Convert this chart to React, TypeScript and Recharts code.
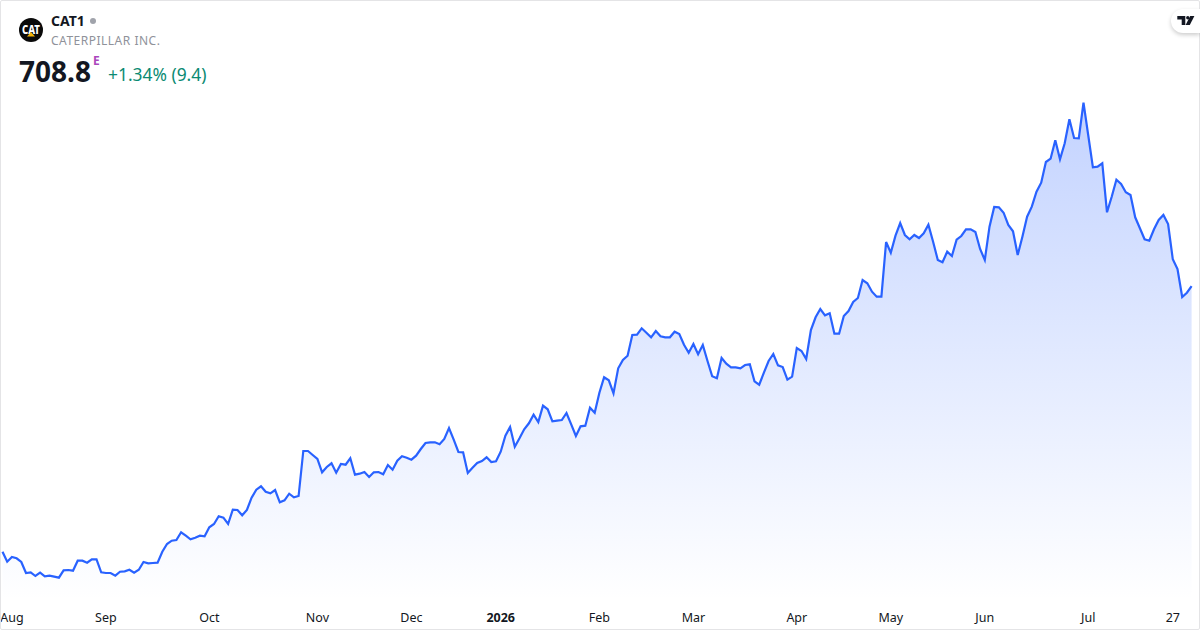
import React from "react";
import { AreaChart, Area, XAxis, YAxis } from "recharts";

const prices: number[] = [
  443.3, 433.3, 438, 436.7, 433, 422, 422.7, 419, 422.3, 418.7,
  419.3, 418.3, 417.3, 424.7, 425, 424.3, 434.3, 434.3, 432.3, 435.7,
  435.7, 422.7, 422, 422, 419.3, 423.3, 423.7, 425.3, 422.3, 425.3,
  433, 431.7, 432, 432.3, 443.3, 451, 454.3, 455, 462.7, 459.3,
  455.7, 457.3, 459.3, 458.7, 467.7, 471, 478.7, 477.3, 471, 485.3,
  485, 479.7, 485, 497.3, 505.3, 508.7, 503.3, 501.7, 505, 492.7,
  494.7, 501.3, 497.7, 499, 544, 544, 540, 536, 522.7, 528,
  531.7, 522.3, 531, 530.3, 536.7, 520.3, 521.3, 523, 518, 522.7,
  523, 520.7, 530, 525.3, 534.3, 538.7, 537.3, 535.3, 539.3, 546,
  552, 552.7, 552.7, 550.7, 556, 567, 555.3, 543, 542.7, 522,
  527.3, 532, 534, 537.7, 533, 533.7, 543.3, 559.3, 568, 548.3,
  556.7, 565.7, 571.7, 580.3, 573, 589.3, 585.7, 573.7, 574.3, 575,
  582, 570.7, 559, 568.7, 569.3, 587.3, 582.3, 602.3, 617.7, 614.7,
  601.7, 626.7, 635, 639.3, 660, 660.3, 666.7, 662.3, 657.7, 664,
  658.7, 657.7, 657.7, 663.3, 661, 650.3, 642.3, 651, 640.7, 650,
  634, 618.7, 616.7, 637, 631.3, 627.7, 627.7, 626.7, 630, 630.7,
  613.7, 610.3, 622.3, 634, 641, 629.7, 628, 615.3, 618.3, 647,
  644, 636, 665, 677.7, 686, 679.7, 681.7, 661.3, 661.3, 679,
  684, 693, 697, 715, 711.7, 703.3, 698.3, 698.3, 753, 742.3,
  759.3, 772, 760, 755.7, 760, 757, 761.7, 770.3, 753.3, 735,
  732.7, 743.3, 739, 755.3, 759, 765.7, 765.7, 763, 746, 735,
  768.3, 788, 787.7, 782.3, 770, 763.7, 740, 758.3, 778.3, 788.3,
  803.3, 812.3, 833, 836.3, 854.7, 835.7, 851.7, 875.7, 857, 856.7,
  892.3, 860, 827.7, 828.3, 831.7, 782.7, 798.3, 815.3, 811, 802.7,
  800, 777.7, 766.7, 755.7, 754.3, 765.7, 775, 780, 771, 735.7,
  726, 698, 702.3, 708.8,
];
const tickIndexes: number[] = [2, 22, 44, 67, 87, 106, 127, 147, 169, 189, 209, 231, 249];
const tickLabels: string[] = ["Aug", "Sep", "Oct", "Nov", "Dec", "2026", "Feb", "Mar", "Apr", "May", "Jun", "Jul", "27"];

const rows = prices.map((price, day) => ({ day, price }));
const FONT = '"Noto Sans", sans-serif';

function MonthTick(props: any) {
  const { x, payload } = props;
  const label = tickLabels[tickIndexes.indexOf(payload.value)];
  return (
    <text
      x={x}
      y={622}
      textAnchor="middle"
      fontFamily={FONT}
      fontSize={12.5}
      fontWeight={label === "2026" ? 700 : 400}
      fill="#131722"
    >
      {label}
    </text>
  );
}

export default function App() {
  return (
    <div
      style={{
        position: "absolute",
        left: 0,
        top: 0,
        width: 1200,
        height: 630,
        background: "#fff",
        overflow: "hidden",
        fontFamily: FONT,
      }}
    >
      <AreaChart width={1200} height={630} data={rows} margin={{ top: 0, right: 8.4, bottom: 0, left: 2.5 }}>
        <defs>
          <linearGradient id="fade" x1="0" y1="0" x2="0" y2="1">
            <stop offset="0%" stopColor="#2962FF" stopOpacity={0.28} />
            <stop offset="100%" stopColor="#2962FF" stopOpacity={0} />
          </linearGradient>
        </defs>
        <XAxis
          dataKey="day"
          type="number"
          domain={[0, prices.length - 1]}
          ticks={tickIndexes}
          interval={0}
          height={30}
          axisLine={false}
          tickLine={false}
          tick={<MonthTick />}
        />
        <YAxis hide domain={[395, 995]} />
        <Area
          type="linear"
          dataKey="price"
          baseValue={395}
          stroke="#2962FF"
          strokeWidth={2.2}
          fill="url(#fade)"
          fillOpacity={1}
          dot={false}
          activeDot={false}
          isAnimationActive={false}
        />
      </AreaChart>

      <div style={{ position: "absolute", inset: 0, border: "1px solid #e4e4e6", borderRadius: 2, boxSizing: "border-box", pointerEvents: "none" }} />

      <svg width={24} height={24} style={{ position: "absolute", left: 19, top: 18 }}>
        <circle cx={12} cy={12} r={12} fill="#0a0a0a" />
        <text x={12} y={15.5} textAnchor="middle" fontFamily={FONT} fontWeight={800} fontSize={12} fill="#fff" textLength={18} lengthAdjust="spacingAndGlyphs">CAT</text>
        <polygon points="12,14 16,18.5 8,18.5" fill="#f5b50a" />
      </svg>

      <div style={{ position: "absolute", left: 51, top: 11, fontSize: 14, fontWeight: 700, color: "#131722", lineHeight: "20px" }}>CAT1</div>
      <div style={{ position: "absolute", left: 90, top: 18, width: 6, height: 6, borderRadius: 3, background: "#a0a3ab" }} />
      <div style={{ position: "absolute", left: 51, top: 32, fontSize: 12, color: "#8f929a", lineHeight: "18px", letterSpacing: 0.5 }}>CATERPILLAR INC.</div>
      <div style={{ position: "absolute", left: 19, top: 52, fontSize: 28, fontWeight: 700, color: "#131722", lineHeight: "38px" }}>708.8</div>
      <div style={{ position: "absolute", left: 93, top: 54, fontSize: 12, fontWeight: 700, color: "#ab47bc", lineHeight: "14px" }}>E</div>
      <div style={{ position: "absolute", left: 108, top: 62, fontSize: 17.4, color: "#0b8a72", lineHeight: "24px" }}>+1.34% (9.4)</div>

      <div style={{ position: "absolute", left: 1171, top: 9, width: 29, height: 24, borderRadius: "12px 0 0 12px", background: "#fff", boxShadow: "0 2px 4px rgba(0,0,0,0.2)" }} />
      <svg width={20} height={12} style={{ position: "absolute", left: 1176, top: 15 }}>
        <path d="M1.3 1h8v9h-3.6v-5.4h-4.4z" fill="#131722" />
        <circle cx={11.8} cy={2.8} r={1.7} fill="#131722" />
        <path d="M14.2 1h4.2l-4.6 9h-4.2z" fill="#131722" />
      </svg>
    </div>
  );
}
